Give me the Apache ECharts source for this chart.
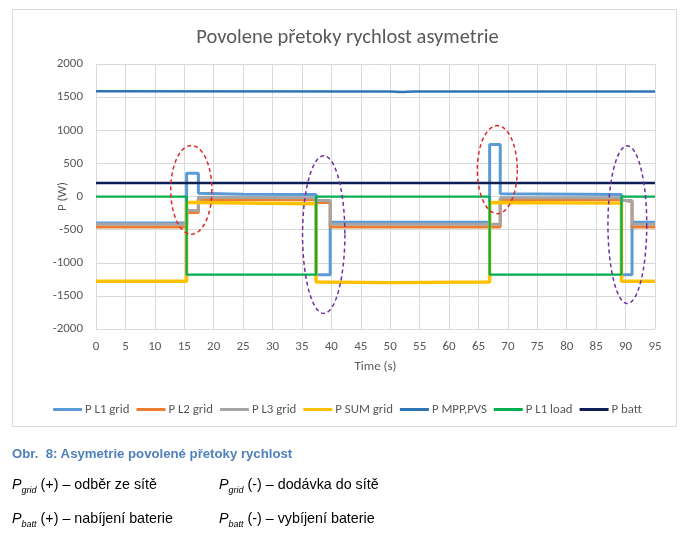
<!DOCTYPE html>
<html>
<head>
    <meta charset="utf-8">
    <title>Povolene přetoky rychlost asymetrie</title>
    <script src="https://cdn.jsdelivr.net/npm/echarts@6/dist/echarts.min.js"></script>
    <style>
        html, body { margin: 0; width: 695px; height: 543px; background: #fff; overflow: hidden; }
        #main { position: absolute; left: 0; top: 0; width: 695px; height: 543px; }
        .txt { position: absolute; font-family: "Liberation Sans", Arial, sans-serif; white-space: nowrap; }
        .cap { left: 12px; top: 446px; font-size: 13.2px; font-weight: bold; color: #4F81BD; }
        .ln { font-size: 14.3px; color: #000; }
        .ln i sub { font-size: 9px; }
    </style>
</head>
<body>
    <div id="main"></div>
    <div class="txt cap">Obr.&nbsp; 8: Asymetrie povolené přetoky rychlost</div>
    <div class="txt ln" style="left:12px;top:476px"><i>P<sub>grid</sub></i> (+) – odběr ze sítě</div>
    <div class="txt ln" style="left:219px;top:476px"><i>P<sub>grid</sub></i> (-) – dodávka do sítě</div>
    <div class="txt ln" style="left:12px;top:510px"><i>P<sub>batt</sub></i> (+) – nabíjení baterie</div>
    <div class="txt ln" style="left:219px;top:510px"><i>P<sub>batt</sub></i> (-) – vybíjení baterie</div>
    <script type="text/javascript">
        // [time s, power W]
        var l1Grid = [[0,-400],[15.4,-400],[15.4,350],[17.4,350],[17.4,50],[25,35],[37.4,30],[37.4,-1180],[39.8,-1180],[39.8,-390],[66.9,-390],[66.9,785],[68.7,785],[68.7,40],[89.3,30],[89.3,-1180],[91.1,-1180],[91.1,-390],[95,-390]];
        var l2Grid = [[0,-460],[15.4,-460],[15.4,-240],[17.4,-240],[17.4,-40],[37.4,-50],[37.4,-90],[39.8,-90],[39.8,-460],[68.7,-460],[68.7,-40],[89.3,-50],[89.3,-80],[91.1,-80],[91.1,-460],[95,-460]];
        var l3Grid = [[0,-420],[15.4,-420],[15.4,-210],[17.4,-210],[17.4,-10],[37.4,-20],[37.4,-60],[39.8,-60],[39.8,-420],[68.7,-420],[68.7,-20],[89.3,-20],[89.3,-60],[91.1,-60],[91.1,-420],[95,-420]];
        var sumGrid = [[0,-1280],[15.4,-1280],[15.4,-90],[17.4,-90],[17.4,-110],[37.4,-110],[37.4,-1290],[50,-1300],[66.9,-1290],[66.9,-90],[89.3,-100],[89.3,-1280],[95,-1280]];
        var mppPvs = [[0,1590],[50,1585],[52,1578],[54,1585],[95,1585]];
        var l1Load = [[0,0],[15.4,0],[15.4,-1180],[37.4,-1180],[37.4,0],[66.9,0],[66.9,-1180],[89.3,-1180],[89.3,0],[95,0]];
        var pBatt = [[0,205],[95,205]];

        var seriesNames = ['P L1 grid', 'P L2 grid', 'P L3 grid', 'P SUM grid', 'P MPP,PVS', 'P L1 load', 'P batt'];
        var seriesData = [l1Grid, l2Grid, l3Grid, sumGrid, mppPvs, l1Load, pBatt];
        var colors = ['#5B9BD5', '#ED7D31', '#A5A5A5', '#FFC000', '#2E75B6', '#00B050', '#0E1F55'];
        var widths = [3, 3, 3, 3.5, 2.5, 2.25, 2.5];

        // dashed ellipses: centre [t, P], radii [s, W]
        var ellipses = [
            { c: [16.2, 100], r: [3.5, 670], color: '#E02A2A' },
            { c: [38.7, -575], r: [3.6, 1190], color: '#7030A0' },
            { c: [68.2, 405], r: [3.4, 665], color: '#E02A2A' },
            { c: [90.3, -425], r: [3.3, 1190], color: '#7030A0' }
        ];

        var font = 'Carlito, Lato, sans-serif';
        var myChart = echarts.init(document.getElementById('main'));
        var series = [];
        for (var i = 0; i < seriesNames.length; i++) {
            series.push({
                name: seriesNames[i],
                type: 'line',
                data: seriesData[i],
                symbol: 'none',
                color: colors[i],
                lineStyle: { width: widths[i], color: colors[i] },
                animation: false
            });
        }

        var option = {
            animation: false,
            title: {
                text: 'Povolene přetoky rychlost asymetrie',
                left: 'center',
                top: 22,
                textStyle: { fontFamily: font, fontSize: 20.5, fontWeight: 'normal', color: '#595959' }
            },
            legend: {
                data: seriesNames,
                bottom: 122,
                left: 'center',
                icon: 'rect',
                itemWidth: 29,
                itemHeight: 3,
                itemGap: 7,
                textStyle: { fontFamily: font, fontSize: 12.8, color: '#595959', padding: [0, 0, 0, -2] }
            },
            grid: { left: 96, right: 40, top: 64, bottom: 214 },
            xAxis: {
                type: 'value',
                min: 0, max: 95, interval: 5,
                name: 'Time (s)',
                nameLocation: 'middle',
                nameGap: 31,
                nameMoveOverlap: false,
                nameTextStyle: { fontFamily: font, fontSize: 13, color: '#595959' },
                axisLine: { onZero: false, lineStyle: { color: '#D9D9D9' } },
                axisTick: { show: false },
                axisLabel: { fontFamily: font, fontSize: 13, color: '#595959', margin: 11 },
                splitLine: { show: true, lineStyle: { color: '#D9D9D9' } }
            },
            yAxis: {
                type: 'value',
                min: -2000, max: 2000, interval: 500,
                name: 'P (W)',
                nameLocation: 'middle',
                nameGap: 27,
                nameMoveOverlap: false,
                nameTextStyle: { fontFamily: font, fontSize: 13, color: '#595959' },
                axisLine: { show: false },
                axisTick: { show: false },
                axisLabel: {
                    fontFamily: font, fontSize: 13, color: '#595959', margin: 13,
                    formatter: function (v) { return String(v); }
                },
                splitLine: { lineStyle: { color: '#D9D9D9' } }
            },
            series: series
        };
        myChart.setOption(option);

        var elements = [{
            type: 'rect',
            shape: { x: 12.5, y: 9.5, width: 664, height: 417 },
            style: { fill: 'none', stroke: '#D9D9D9', lineWidth: 1 },
            z: -1
        }];
        ellipses.forEach(function (e) {
            var c = myChart.convertToPixel({ gridIndex: 0 }, e.c);
            var p = myChart.convertToPixel({ gridIndex: 0 }, [e.c[0] + e.r[0], e.c[1] + e.r[1]]);
            var rx = Math.abs(p[0] - c[0]), ry = Math.abs(p[1] - c[1]);
            var pts = [];
            for (var k = 0; k < 72; k++) {
                var a = k / 72 * Math.PI * 2;
                pts.push([c[0] + rx * Math.cos(a), c[1] + ry * Math.sin(a)]);
            }
            elements.push({
                type: 'polygon',
                shape: { points: pts },
                style: { fill: 'none', stroke: e.color, lineWidth: 1.5, lineDash: [4, 3] },
                z: 100
            });
        });
        myChart.setOption({ graphic: { elements: elements } });
    </script>
</body>
</html>
